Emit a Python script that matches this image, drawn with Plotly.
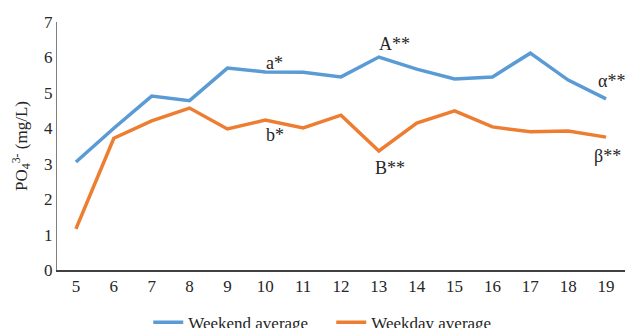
import plotly.graph_objects as go

hours = [5, 6, 7, 8, 9, 10, 11, 12, 13, 14, 15, 16, 17, 18, 19]
weekend_avg = [3.05, 4.00, 4.91, 4.78, 5.70, 5.59, 5.58, 5.45, 6.01, 5.67, 5.39, 5.45, 6.12, 5.36, 4.83]
weekday_avg = [1.16, 3.72, 4.21, 4.57, 3.98, 4.23, 4.01, 4.37, 3.36, 4.15, 4.49, 4.04, 3.90, 3.92, 3.75]

# significance markers: (x, y, text)
marks = [
    (10.25, 5.85, "a*"),
    (10.25, 3.82, "b*"),
    (13.4, 6.37, "A**"),
    (13.3, 2.88, "B**"),
    (19.15, 5.33, "α**"),
    (19.05, 3.22, "β**"),
]

font_family = "Liberation Serif, Times New Roman, serif"

fig = go.Figure()
fig.add_trace(go.Scatter(x=hours, y=weekend_avg, mode="lines", name="Weekend average",
                         line=dict(color="#5B9BD5", width=3.5)))
fig.add_trace(go.Scatter(x=hours, y=weekday_avg, mode="lines", name="Weekday average",
                         line=dict(color="#ED7D31", width=3.5)))

for x, y, t in marks:
    fig.add_annotation(x=x, y=y, text=t, showarrow=False,
                       font=dict(family=font_family, size=18, color="#262626"))

fig.update_layout(
    width=625, height=328,
    margin=dict(l=57, r=0, t=22, b=58, autoexpand=False),
    paper_bgcolor="white", plot_bgcolor="white",
    font=dict(family=font_family, size=17, color="#262626"),
    showlegend=True,
    legend=dict(orientation="h", x=0.53, xanchor="center", xref="container",
                y=-0.14, yanchor="top", yref="paper",
                font=dict(size=17), tracegroupgap=0,
                entrywidth=138, entrywidthmode="pixels"),
    xaxis=dict(range=[4.5, 19.5], tickmode="array", tickvals=hours,
               ticktext=[str(h) for h in hours], showgrid=False, zeroline=False,
               showline=True, linecolor="#404040", linewidth=1.5, ticks="",
               tickfont=dict(size=17)),
    yaxis=dict(range=[0, 7], dtick=1, showgrid=False, zeroline=False,
               showline=True, linecolor="#808080", linewidth=1, ticks="",
               tickfont=dict(size=17),
               title=dict(text="PO<sub>4</sub><sup>3-</sup> (mg/L)", standoff=12,
                          font=dict(size=17))),
)

fig.write_html("out.html")
